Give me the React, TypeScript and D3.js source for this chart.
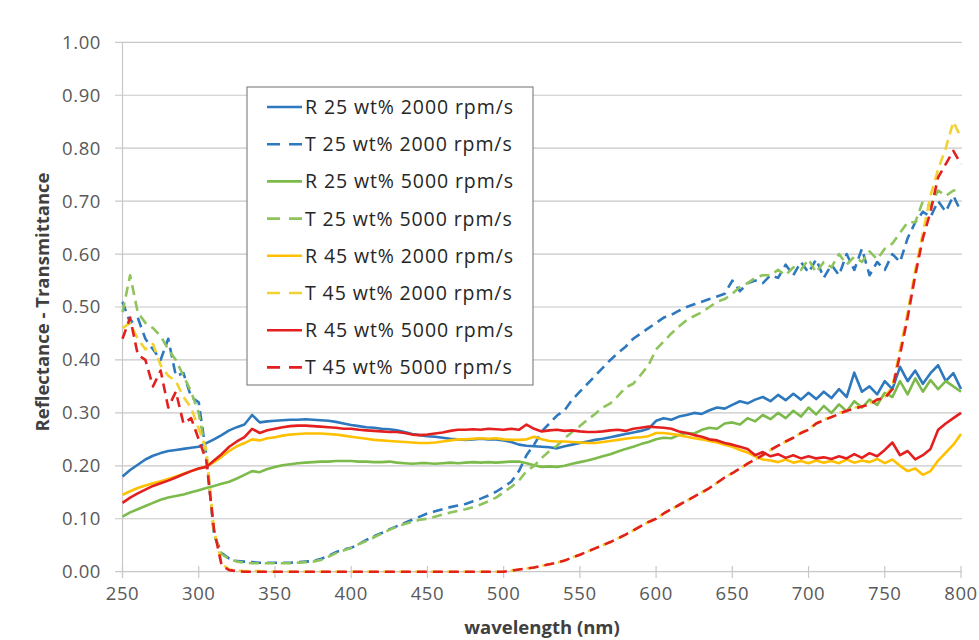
import React from 'react';
import * as d3 from 'd3';

// spectra sampled every 5 nm from 250 to 800 nm
const wavelengths = d3.range(250, 801, 5);

const R25_2000 = [
  .180, .192, .202, .212, .219, .224, .228, .230, .232, .234,
  .236, .243, .250, .258, .267, .273, .278, .296, .282, .284,
  .285, .286, .287, .287, .288, .287, .286, .285, .283, .280,
  .277, .275, .273, .272, .270, .269, .267, .264, .260, .258,
  .256, .255, .253, .251, .250, .249, .250, .251, .250, .250,
  .248, .245, .240, .238, .237, .236, .235, .233, .237, .240,
  .243, .246, .249, .251, .254, .257, .260, .263, .266, .270,
  .285, .290, .287, .293, .296, .300, .298, .305, .310, .308,
  .315, .322, .318, .325, .330, .322, .334, .324, .336, .325,
  .338, .326, .340, .328, .345, .330, .376, .340, .350, .335,
  .360, .345, .387, .360, .380, .355, .375, .390, .360, .375,
  .345];

const T25_2000 = [
  .510, .470, .480, .440, .420, .400, .440, .370, .375, .330,
  .320, .220, .070, .035, .025, .020, .019, .018, .017, .017,
  .017, .017, .017, .018, .019, .020, .024, .030, .037, .042,
  .045, .052, .060, .067, .073, .080, .086, .092, .098, .104,
  .110, .114, .118, .122, .125, .128, .133, .138, .144, .151,
  .160, .170, .190, .220, .240, .265, .280, .295, .305, .325,
  .340, .355, .370, .385, .400, .413, .425, .440, .450, .460,
  .470, .480, .485, .493, .500, .505, .510, .515, .520, .525,
  .550, .530, .545, .550, .545, .560, .555, .580, .560, .585,
  .565, .590, .555, .580, .560, .600, .570, .610, .560, .585,
  .570, .600, .585, .630, .660, .680, .670, .700, .680, .710,
  .680];

const R25_5000 = [
  .104, .112, .118, .124, .130, .136, .140, .143, .146, .150,
  .154, .158, .162, .166, .170, .176, .183, .190, .188, .194,
  .198, .201, .203, .205, .206, .207, .208, .208, .209, .209,
  .209, .208, .208, .207, .207, .208, .206, .205, .204, .205,
  .205, .204, .205, .206, .205, .206, .207, .206, .207, .206,
  .207, .208, .208, .205, .201, .198, .199, .198, .200, .204,
  .207, .210, .214, .218, .222, .227, .232, .236, .241, .245,
  .250, .253, .252, .258, .262, .261, .268, .272, .270, .280,
  .282, .278, .290, .284, .296, .288, .300, .290, .304, .293,
  .310, .297, .313, .300, .316, .303, .322, .310, .325, .315,
  .338, .330, .360, .335, .365, .340, .362, .345, .360, .350,
  .340];

const T25_5000 = [
  .490, .560, .490, .470, .460, .445, .420, .400, .370, .340,
  .300, .220, .070, .033, .024, .019, .017, .016, .016, .016,
  .016, .016, .016, .017, .018, .019, .022, .028, .035, .040,
  .045, .052, .058, .065, .072, .079, .085, .090, .094, .098,
  .100, .104, .108, .112, .115, .118, .122, .127, .133, .140,
  .150, .160, .172, .190, .200, .215, .228, .238, .252, .264,
  .275, .287, .298, .310, .318, .332, .348, .355, .372, .390,
  .420, .435, .450, .463, .475, .483, .490, .500, .510, .515,
  .525, .538, .545, .555, .560, .560, .570, .560, .575, .570,
  .590, .565, .585, .575, .600, .580, .595, .585, .605, .590,
  .610, .620, .640, .660, .660, .700, .690, .720, .710, .720,
  .720];

const R45_2000 = [
  .145, .152, .158, .163, .167, .171, .175, .180, .185, .190,
  .195, .198, .207, .217, .228, .237, .243, .250, .248, .252,
  .254, .257, .259, .260, .261, .261, .261, .260, .259, .257,
  .255, .253, .251, .249, .248, .247, .246, .245, .244, .243,
  .243, .244, .246, .248, .250, .250, .251, .252, .251, .252,
  .250, .249, .249, .250, .255, .250, .247, .246, .246, .245,
  .244, .243, .243, .245, .247, .249, .251, .253, .254, .256,
  .262, .262, .260, .258, .255, .252, .250, .247, .244, .240,
  .236, .230, .225, .218, .212, .210, .207, .212, .206, .209,
  .205, .210, .206, .209, .205, .212, .206, .210, .207, .213,
  .205, .212, .200, .190, .195, .183, .190, .210, .225, .240,
  .260];

const T45_2000 = [
  .460, .470, .440, .420, .430, .390, .370, .360, .330, .310,
  .270, .230, .080, .015, .004, .002, .001, .001, .001, .000,
  .000, .000, .000, .000, .000, .000, .000, .000, .000, .000,
  .000, .000, .000, .000, .000, .000, .000, .000, .000, .000,
  .000, .000, .000, .000, .000, .000, .000, .000, .000, .000,
  .000, .002, .004, .006, .008, .011, .014, .017, .021, .027,
  .032, .038, .044, .050, .056, .063, .070, .078, .086, .094,
  .100, .110, .118, .126, .134, .142, .150, .158, .168, .178,
  .186, .195, .204, .212, .220, .230, .238, .246, .253, .262,
  .270, .280, .288, .292, .300, .304, .310, .312, .318, .325,
  .330, .350, .420, .490, .570, .640, .710, .760, .800, .850,
  .820];

const R45_5000 = [
  .130, .140, .148, .155, .162, .167, .172, .178, .184, .190,
  .195, .198, .210, .222, .236, .246, .254, .270, .262, .267,
  .270, .273, .275, .276, .276, .275, .274, .273, .272, .270,
  .270, .268, .267, .266, .265, .264, .264, .262, .259, .258,
  .259, .261, .263, .266, .268, .268, .269, .268, .270, .269,
  .268, .270, .268, .278, .270, .265, .267, .268, .266, .267,
  .265, .264, .264, .265, .267, .268, .266, .270, .272, .274,
  .273, .272, .270, .265, .262, .258, .255, .250, .248, .243,
  .240, .236, .232, .220, .226, .218, .222, .215, .220, .214,
  .218, .214, .216, .213, .218, .214, .222, .215, .224, .218,
  .230, .244, .220, .228, .212, .220, .232, .268, .280, .290,
  .300];

const T45_5000 = [
  .440, .480, .410, .400, .350, .380, .310, .340, .280, .290,
  .250, .210, .080, .012, .003, .001, .000, .000, .000, .000,
  .000, .000, .000, .000, .000, .000, .000, .000, .000, .000,
  .000, .000, .000, .000, .000, .000, .000, .000, .000, .000,
  .000, .000, .000, .000, .000, .000, .000, .000, .000, .000,
  .000, .002, .004, .006, .008, .011, .014, .017, .021, .027,
  .032, .038, .044, .050, .056, .063, .070, .078, .086, .094,
  .100, .110, .118, .126, .134, .142, .150, .158, .168, .178,
  .186, .195, .204, .212, .220, .230, .238, .246, .253, .262,
  .268, .280, .286, .292, .298, .304, .308, .312, .316, .325,
  .328, .345, .410, .480, .560, .630, .680, .745, .770, .795,
  .770];

const seriesNames = [
  'R 25 wt% 2000 rpm/s', 'T 25 wt% 2000 rpm/s',
  'R 25 wt% 5000 rpm/s', 'T 25 wt% 5000 rpm/s',
  'R 45 wt% 2000 rpm/s', 'T 45 wt% 2000 rpm/s',
  'R 45 wt% 5000 rpm/s', 'T 45 wt% 5000 rpm/s',
];
const seriesValues = [R25_2000, T25_2000, R25_5000, T25_5000, R45_2000, T45_2000, R45_5000, T45_5000];
const seriesColors = ['#2E78BE', '#2E78BE', '#7CBB4B', '#8FC45C', '#FFC000', '#F2D230', '#E3201F', '#E3201F'];
const seriesDashed = [false, true, false, true, false, true, false, true];

const xTicks = [250, 300, 350, 400, 450, 500, 550, 600, 650, 700, 750, 800];
const yTicks = [0, 0.1, 0.2, 0.3, 0.4, 0.5, 0.6, 0.7, 0.8, 0.9, 1.0];

const font = '"Open Sans", "Noto Sans", sans-serif';

export default function App() {
  const x = d3.scaleLinear().domain([250, 800]).range([122.5, 961]);
  const y = d3.scaleLinear().domain([0, 1]).range([571.7, 42.3]);
  const fmt = d3.format('.2f');

  const line = d3.line<number>()
    .x((d, i) => x(wavelengths[i]))
    .y(d => y(d));

  const legendX = 247, legendY = 87, legendW = 286, legendH = 298;
  const rowH = 37.2;

  return (
    <svg width={979} height={640} style={{position: 'absolute', left: 0, top: 0, background: '#fff'}}
         fontFamily={font}>
      <rect x={0} y={0} width={979} height={640} fill="#fff"/>

      {/* grid */}
      {yTicks.map(t => (
        <line key={'g' + t} x1={115} x2={962} y1={y(t)} y2={y(t)} stroke="#c8c8c8" strokeWidth={1.2}/>
      ))}
      <line x1={x(250)} x2={x(250)} y1={y(1)} y2={578} stroke="#c8c8c8" strokeWidth={1.2}/>
      {xTicks.map(t => (
        <line key={'xt' + t} x1={x(t)} x2={x(t)} y1={566} y2={578} stroke="#c8c8c8" strokeWidth={1.2}/>
      ))}

      {/* tick labels */}
      {yTicks.map(t => (
        <text key={'yl' + t} x={101} y={y(t)} dy="0.35em" textAnchor="end" fontSize={18.5}
              letterSpacing={0.6} fill="#595959">{fmt(t)}</text>
      ))}
      {xTicks.map(t => (
        <text key={'xl' + t} x={x(t)} y={600} textAnchor="middle" fontSize={18.5}
              letterSpacing={0.6} fill="#595959">{t}</text>
      ))}

      {/* axis titles */}
      <text x={542} y={634} textAnchor="middle" fontSize={18.5} fontWeight="bold" fill="#404040">wavelength (nm)</text>
      <text transform="translate(49,302) rotate(-90)" textAnchor="middle" fontSize={18.5} fontWeight="bold"
            fill="#404040">Reflectance - Transmittance</text>

      {/* series */}
      {seriesValues.map((vals, i) => (
        <path key={'s' + i} d={line(vals) || ''} fill="none" stroke={seriesColors[i]} strokeWidth={2.6}
              strokeDasharray={seriesDashed[i] ? '10,6' : undefined} strokeLinejoin="round"/>
      ))}

      {/* legend */}
      <rect x={legendX} y={legendY} width={legendW} height={legendH} fill="#fff" stroke="#6e6e6e" strokeWidth={1}/>
      {seriesNames.map((name, i) => {
        const cy = legendY + 20 + i * rowH;
        return (
          <g key={'lg' + i}>
            <line x1={267} x2={302} y1={cy} y2={cy} stroke={seriesColors[i]} strokeWidth={2.6}
                  strokeDasharray={seriesDashed[i] ? '13,9' : undefined}/>
            <text x={305} y={cy} dy="0.36em" fontSize={19.5} letterSpacing={0.9} fill="#262626">{name}</text>
          </g>
        );
      })}
    </svg>
  );
}
